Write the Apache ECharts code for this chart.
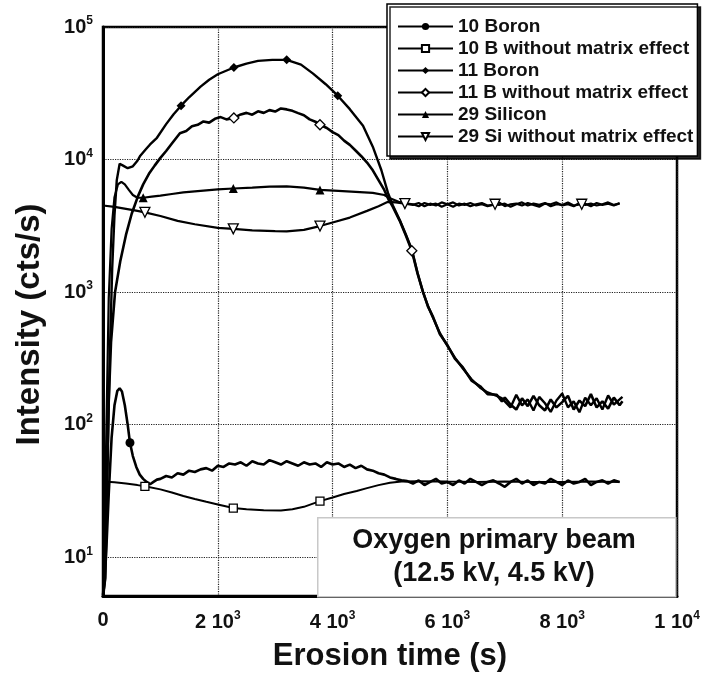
<!DOCTYPE html>
<html><head><meta charset="utf-8">
<script src="https://cdn.jsdelivr.net/npm/echarts/dist/echarts.min.js"></script>
<style>html,body{margin:0;padding:0;background:#fff}#c{width:703px;height:677px}</style>
</head><body><div id="c"></div>
<script>
const FONT = '"Liberation Sans", Arial, Helvetica, sans-serif';

const seriesNames = ['10 Boron', '10 B without matrix effect', '11 Boron', '11 B without matrix effect', '29 Silicon', '29 Si without matrix effect'];
const xTickValues = [0, 2000, 4000, 6000, 8000, 10000];
const annotationText = ['Oxygen primary beam', '(12.5 kV, 4.5 kV)'];

// [erosion time (s), intensity (cts/s)]
const boron10 = [[0,5.2],[30,6.5],[60,12],[100,30],[150,80],[200,140],[250,180],[290,188],[330,178],[380,140],[430,100],[470,73],[520,58],[580,48],[640,42],[700,39],[760,37],[820,35.5],[880,37],[940,38.5],
[1000,39],[1100,41],[1200,40],[1300,43],[1400,42],[1500,45],[1600,44],[1700,46],[1800,47],[1900,45],
[2000,49],[2100,48],[2200,51],[2300,50],[2400,52],[2500,49],[2600,53],[2700,51],[2800,50],[2900,54],
[3000,52],[3100,50],[3200,53],[3300,51],[3400,49],[3500,52],[3600,50],[3700,51],[3800,48],[3900,52],
[4000,50],[4100,51],[4200,48],[4300,50],[4400,47],[4500,49],[4600,46],[4700,45],[4800,43],[4900,42],
[5000,40],[5100,39],[5200,38],[5300,37.5],
[5400,36],[5500,38],[5600,35],[5700,37],[5800,39],[5900,36],[6000,37],[6100,35],[6200,38],[6300,36],[6400,39],[6500,37],[6600,35],[6700,37],[6800,38],[6900,36],[7000,34],[7100,37],[7200,39],[7300,36],[7400,38],[7500,35],[7600,37],[7700,36],[7800,39],[7900,37],[8000,35],[8100,38],[8200,36],[8300,37],[8400,39],[8500,35],[8600,37],[8700,38],[8800,36],[8900,38],[9000,37]];
const boron10Marks = [470];

const boron10c = [[0,37.2],[200,36.8],[400,36],[600,35],[730,34.3],[1000,32.5],[1200,30.8],[1400,29],[1600,27.5],[1800,26.2],[2000,25],[2270,23.5],[2500,23],[2800,22.6],[3100,22.5],[3300,23],[3500,24],[3780,26.5],[4000,28.2],[4200,30],[4420,31.6],[4600,33.2],[4800,35],[5000,36.5],[5200,37.3],[5500,37.5],[6000,37.2],[6500,37],[7000,37.2],[7500,37],[8000,37],[8500,37.2],[9000,37]];
const boron10cMarks = [730, 2270, 3780];

const boron11 = [[0,5.2],[40,12],[80,60],[120,350],[160,1500],[200,3800],[240,7000],[290,9300],[350,9000],[430,8600],[520,8900],[600,9800],[650,10700],[750,12000],[820,13000],[940,14600],[1100,18500],[1230,22000],[1360,25500],[1500,29500],[1700,35500],[1850,40000],[2000,44000],[2280,49500],[2500,53000],[2700,55500],[2950,56500],[3200,56500],[3450,52000],[3660,44500],[3880,37000],[4090,30300],[4300,24000],[4530,18000],[4700,12500],[4850,8300],[4965,5600],[5050,4500],[5170,3500],[5280,2700],[5380,2100],[5480,1400],[5574,1000],[5660,790],[5750,640],[5870,490],[5990,400],[6130,320],[6270,265],[6420,220],[6570,190],[6700,175],[6860,165],[6950,158],
[7000,150],[7100,135],[7200,168],[7300,140],[7400,155],[7500,128],[7600,162],[7700,145],[7800,125],[7900,152],[8000,172],[8100,135],[8200,150],[8300,124],[8400,160],[8500,140],[8600,158],[8700,130],[8800,166],[8900,142],[9000,155],[9050,162]];
const boron11Marks = [1360, 2280, 3200, 4090];

const boron11c = [[0,5],[40,7],[70,30],[100,150],[140,420],[210,1000],[300,1700],[400,2700],[500,3900],[610,5300],[700,6500],[800,7800],[900,9000],[1000,10300],[1100,11600],[1200,13200],[1340,15800],[1450,16400],[1550,17800],[1650,18300],[1750,19400],[1850,19000],[1950,20300],[2050,20900],[2150,20100],[2280,20600],[2400,21900],[2500,22500],[2600,21800],[2700,23100],[2800,22500],[2900,23600],[3000,23000],[3100,24300],[3200,23900],[3300,23300],[3400,22400],[3500,21600],[3600,20100],[3700,19300],[3780,18300],[3900,17300],[4000,16100],[4100,15300],[4200,13900],[4300,12900],[4400,11700],[4500,10600],[4600,9500],[4700,8300],[4800,7000],[4900,5900],[4965,5100],[5050,4400],[5170,3450],[5280,2650],[5380,2050],[5480,1380],[5574,1010],[5660,780],[5750,650],[5870,480],[5990,405],[6130,315],[6270,270],[6420,215],[6570,195],[6700,170],[6860,168],[6950,150],
[7000,160],[7100,142],[7200,130],[7300,158],[7400,138],[7500,165],[7600,140],[7700,128],[7800,155],[7900,135],[8000,148],[8100,165],[8200,130],[8300,152],[8400,138],[8500,170],[8600,135],[8700,150],[8800,132],[8900,160],[9000,140],[9050,150]];
const boron11cMarks = [2280, 3780, 5380];

const silicon29 = [[0,5],[30,15],[60,100],[100,900],[150,3000],[200,5200],[260,6500],[320,6800],[380,6500],[450,5900],[520,5400],[600,5150],[700,5150],[850,5250],[1000,5350],[1200,5500],[1400,5650],[1600,5750],[1800,5850],[2000,5950],[2270,6050],[2600,6150],[2900,6250],[3200,6270],[3500,6150],[3780,5900],[4100,5800],[4400,5700],[4700,5600],[4900,5400],[5000,5100],[5150,4800],[5300,4650],
[5400,4600],[5500,4450],[5600,4700],[5700,4550],[5800,4650],[5900,4400],[6000,4600],[6100,4750],[6200,4500],[6300,4650],[6400,4450],[6500,4600],[6600,4700],[6700,4500],[6800,4550],[6900,4750],[7000,4450],[7100,4600],[7200,4650],[7300,4500],[7400,4700],[7500,4550],[7600,4400],[7700,4650],[7800,4600],[7900,4750],[8000,4500],[8100,4600],[8200,4450],[8300,4700],[8400,4550],[8500,4650],[8600,4500],[8700,4600],[8800,4750],[8900,4550],[9000,4650]];
const silicon29Marks = [700, 2270, 3780];

const silicon29c = [[0,4500],[200,4400],[400,4250],[600,4100],[730,4000],[1000,3750],[1300,3450],[1600,3250],[2000,3050],[2270,3000],[2600,2920],[3000,2880],[3200,2870],[3500,2950],[3780,3150],[4000,3350],[4300,3650],[4600,4100],[4800,4450],[4965,4800],[5100,4750],[5260,4650],
[5400,4550],[5500,4700],[5600,4450],[5700,4650],[5800,4500],[5900,4750],[6000,4600],[6100,4400],[6200,4650],[6300,4550],[6400,4700],[6500,4500],[6600,4600],[6700,4450],[6830,4600],[6900,4550],[7000,4650],[7100,4400],[7200,4600],[7300,4750],[7400,4500],[7500,4650],[7600,4550],[7700,4700],[7800,4450],[7900,4600],[8000,4550],[8100,4750],[8200,4500],[8340,4600],[8400,4650],[8500,4450],[8600,4700],[8700,4550],[8800,4650],[8900,4500],[9000,4700]];
const silicon29cMarks = [730, 2270, 3780, 5260, 6830, 8340];

function mk(name, pts, marks, symbol, size, filled, rotate, width) {
  return {
    name: name, type: 'line',
    data: pts.map(p => marks.indexOf(p[0]) >= 0 ? { value: p } : { value: p, symbol: 'none' }),
    symbol: symbol, symbolSize: size, symbolRotate: rotate || 0,
    showSymbol: true, showAllSymbol: true, smooth: false,
    lineStyle: { color: '#000', width: width },
    itemStyle: filled ? { color: '#000', borderColor: '#000', borderWidth: 0 } : { color: '#fff', borderColor: '#000', borderWidth: 1.3 },
    emphasis: { disabled: true }, silent: true
  };
}

function sup(n) { return '{s|' + n + '}'; }

const chart = echarts.init(document.getElementById('c'), null, { renderer: 'canvas' });
chart.setOption({
  animation: false,
  backgroundColor: '#fff',
  grid: { left: 103, right: 26, top: 27, bottom: 80, show: true, borderColor: '#000', borderWidth: 2.5, backgroundColor: 'transparent' },
  xAxis: {
    type: 'value', min: xTickValues[0], max: xTickValues[xTickValues.length - 1], interval: 2000,
    axisLine: { show: true, lineStyle: { color: '#000', width: 3 } },
    axisTick: { show: false },
    splitLine: { show: true, lineStyle: { type: 'dotted', color: '#222', width: 1.2 } },
    axisLabel: {
      margin: 14, color: '#111',
      formatter: function (v) {
        if (v === 0) return '{b|0}';
        const e = Math.floor(Math.log10(v) + 1e-9);
        const m = Math.round(v / Math.pow(10, e));
        return '{b|' + m + ' 10}' + sup(e);
      },
      rich: {
        b: { fontFamily: FONT, fontWeight: 'bold', fontSize: 20, color: '#111' },
        s: { fontFamily: FONT, fontWeight: 'bold', fontSize: 12, color: '#111', padding: [0, 0, 12, 0] }
      }
    },
    name: 'Erosion time (s)', nameLocation: 'middle', nameGap: 45,
    nameTextStyle: { fontFamily: FONT, fontWeight: 'bold', fontSize: 31, color: '#111' }
  },
  yAxis: {
    type: 'log', logBase: 10, min: 5.1, max: 100000,
    axisLine: { show: true, lineStyle: { color: '#000', width: 3 } },
    axisTick: { show: false },
    splitLine: { show: true, lineStyle: { type: 'dotted', color: '#222', width: 1.2 } },
    axisLabel: {
      margin: 10, color: '#111',
      formatter: function (v) {
        const e = Math.log10(v);
        if (Math.abs(e - Math.round(e)) > 1e-6) return '';
        return '{b|10}' + sup(Math.round(e));
      },
      rich: {
        b: { fontFamily: FONT, fontWeight: 'bold', fontSize: 20, color: '#111' },
        s: { fontFamily: FONT, fontWeight: 'bold', fontSize: 12, color: '#111', padding: [0, 0, 12, 0] }
      }
    },
    name: 'Intensity (cts/s)', nameLocation: 'middle', nameGap: 57,
    nameTextStyle: { fontFamily: FONT, fontWeight: 'bold', fontSize: 33, color: '#111', padding: [0, 26, 0, 0] }
  },
  legend: {
    orient: 'vertical', left: 387, top: 4, padding: [13, 4, 10, 10],
    itemWidth: 55, itemHeight: 9, itemGap: 3,
    backgroundColor: '#fff', borderColor: '#000', borderWidth: 1.5,
    shadowColor: 'rgba(0,0,0,0.85)', shadowBlur: 0, shadowOffsetX: 3, shadowOffsetY: 3,
    selectedMode: false, data: seriesNames,
    textStyle: { fontFamily: FONT, fontWeight: 'bold', fontSize: 19, lineHeight: 19, color: '#111' }
  },
  graphic: [
    { type: 'rect', left: 317, top: 517, shape: { width: 358, height: 79 }, style: { fill: '#fff', stroke: '#c8c8c8', lineWidth: 1.5 }, z: 10 },
    { type: 'text', x: 494, y: 557, z: 11, style: { text: annotationText.join('\n'), fill: '#111', font: 'bold 27px ' + FONT, lineHeight: 33, align: 'center', verticalAlign: 'middle' } }
  ],
  series: [
    mk(seriesNames[0], boron10, boron10Marks, 'circle', 9, true, 0, 2.6),
    mk(seriesNames[1], boron10c, boron10cMarks, 'rect', 8, false, 0, 2),
    mk(seriesNames[2], boron11, boron11Marks, 'diamond', 9, true, 0, 2.4),
    mk(seriesNames[3], boron11c, boron11cMarks, 'diamond', 10, false, 0, 2.6),
    mk(seriesNames[4], silicon29, silicon29Marks, 'triangle', 9, true, 0, 2.2),
    mk(seriesNames[5], silicon29c, silicon29cMarks, 'triangle', 10, false, 180, 2.2)
  ]
});
</script>
</body></html>
